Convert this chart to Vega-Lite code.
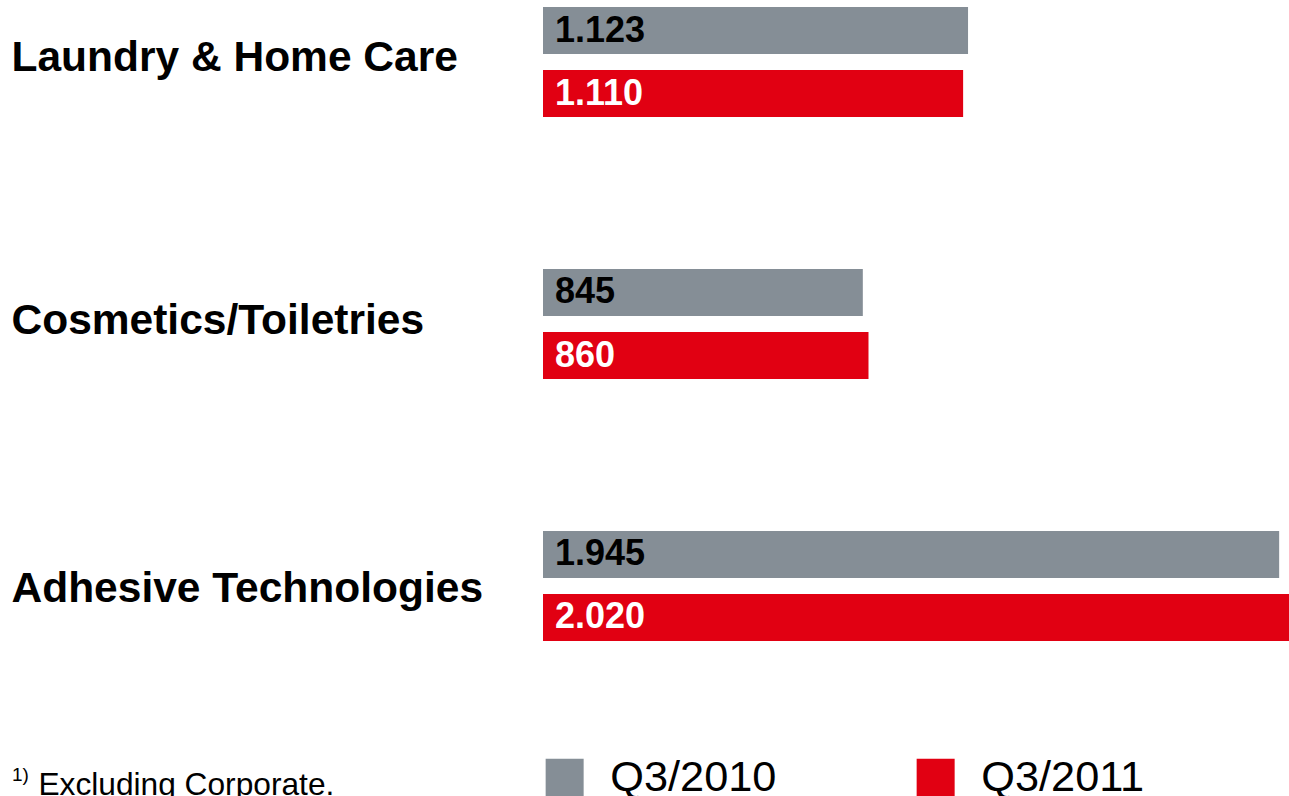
{
  "$schema": "https://vega.github.io/schema/vega-lite/v6.json",
  "width": 746,
  "height": 648,
  "autosize": {"type": "none"},
  "padding": {"left": 543, "top": 0, "right": 0, "bottom": 148},
  "background": "white",
  "config": {"view": {"stroke": null}, "font": "Liberation Sans"},
  "title": {
    "text": "1)",
    "subtitle": "\u200b\u00a0\u00a0\u00a0Excluding Corporate.",
    "orient": "bottom",
    "anchor": "start",
    "frame": "group",
    "dx": -531,
    "offset": -33,
    "font": "Liberation Sans",
    "fontSize": 19,
    "fontWeight": "normal",
    "color": "black",
    "subtitleFont": "Liberation Sans",
    "subtitleFontSize": 31.7,
    "subtitleColor": "black",
    "subtitlePadding": -15
  },
  "data": {
    "values": [
      {"segment": "Laundry & Home Care", "series": "Q3/2010", "value": 1123, "label": "1.123"},
      {"segment": "Laundry & Home Care", "series": "Q3/2011", "value": 1110, "label": "1.110"},
      {"segment": "Cosmetics/Toiletries", "series": "Q3/2010", "value": 845, "label": "845"},
      {"segment": "Cosmetics/Toiletries", "series": "Q3/2011", "value": 860, "label": "860"},
      {"segment": "Adhesive Technologies", "series": "Q3/2010", "value": 1945, "label": "1.945"},
      {"segment": "Adhesive Technologies", "series": "Q3/2011", "value": 2020, "label": "2.020"}
    ]
  },
  "encoding": {
    "y": {
      "field": "segment",
      "type": "nominal",
      "sort": null,
      "scale": {"paddingInner": 0.58, "paddingOuter": 0.0267},
      "axis": {
        "title": null,
        "domain": false,
        "ticks": false,
        "tickSize": 0,
        "labelPadding": 532,
        "labelAlign": "left",
        "labelFont": "Liberation Sans",
        "labelFontWeight": "bold",
        "labelFontSize": 42.5,
        "labelColor": "black",
        "labelLimit": 600,
        "labelOffset": {
          "condition": [
            {"test": "datum.value === 'Adhesive Technologies'", "value": 3},
            {"test": "datum.value === 'Cosmetics/Toiletries'", "value": -3}
          ],
          "value": -4
        }
      }
    },
    "yOffset": {
      "field": "series",
      "type": "nominal",
      "sort": ["Q3/2010", "Q3/2011"],
      "scale": {"paddingInner": 0.254, "paddingOuter": 0}
    }
  },
  "layer": [
    {
      "mark": {"type": "bar", "clip": true},
      "encoding": {
        "x": {
          "field": "value",
          "type": "quantitative",
          "scale": {"domain": [0, 1971], "nice": false, "zero": true},
          "axis": null
        },
        "color": {
          "field": "series",
          "type": "nominal",
          "scale": {"domain": ["Q3/2010", "Q3/2011"], "range": ["#858E96", "#E10012"]},
          "legend": {
            "title": null,
            "orient": "none",
            "legendX": 0,
            "legendY": 756,
            "direction": "horizontal",
            "symbolType": "square",
            "symbolSize": 1444,
            "symbolStrokeWidth": 0,
            "labelFont": "Liberation Sans",
            "labelFontSize": 43.3,
            "labelColor": "black",
            "labelOffset": 24,
            "labelLimit": 400,
            "columnPadding": 137,
            "padding": 0
          }
        }
      }
    },
    {
      "mark": {
        "type": "text",
        "align": "left",
        "baseline": "middle",
        "dx": 12,
        "font": "Liberation Sans",
        "fontWeight": "bold",
        "fontSize": 36
      },
      "encoding": {
        "x": {"datum": 0, "type": "quantitative"},
        "text": {"field": "label"},
        "color": {
          "condition": {"test": "datum.series === 'Q3/2011'", "value": "white"},
          "value": "black"
        }
      }
    }
  ]
}
